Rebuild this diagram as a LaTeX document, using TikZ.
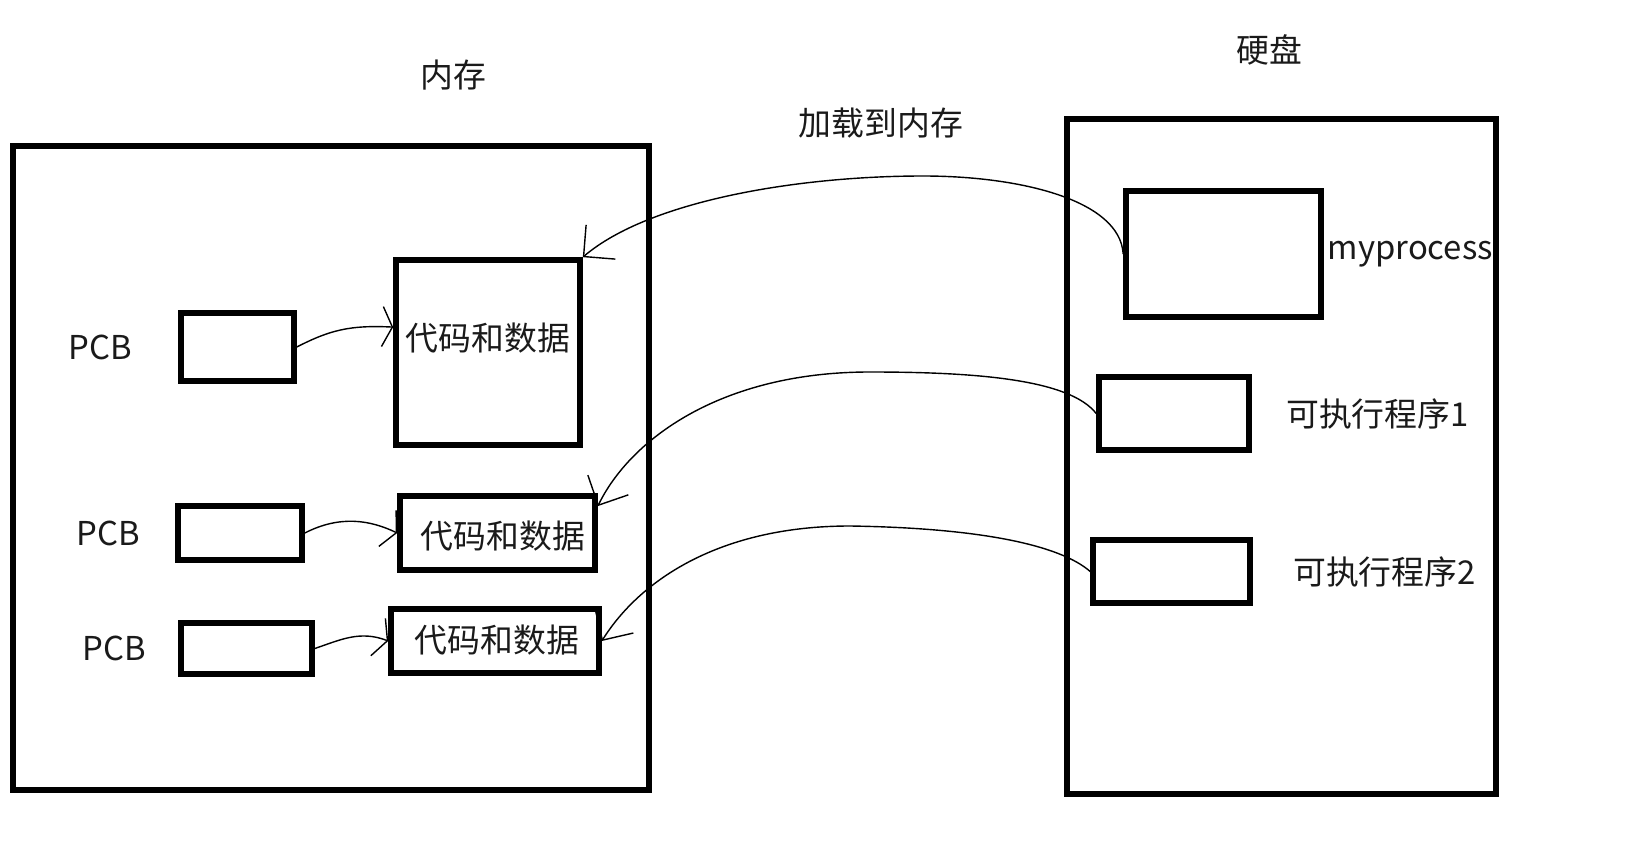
\documentclass[tikz,border=0pt]{standalone}
\usepackage{fontspec}
\setmainfont{Noto Sans CJK SC}
\definecolor{InkBlack}{HTML}{000000}
\definecolor{TextGray}{HTML}{1A1A1A}
\usetikzlibrary{arrows.meta, positioning, fit}
\tikzset{
  % Box styles
  storebox/.style={rectangle, draw=InkBlack, line width=3pt, inner sep=0pt},
  itembox/.style={rectangle, draw=InkBlack, line width=3.2pt, inner sep=0pt},
  tagtext/.style={inner sep=0pt, text=TextGray, font=\fontsize{18.7}{22}\selectfont},
  % Arrow styles
  loadarrow/.style={-{Straight Barb[length=4.5mm, width=9mm]}, line width=0.8pt, InkBlack},
  linkarrow/.style={-{Straight Barb[length=2mm, width=8mm]}, line width=0.8pt, InkBlack}
}

\begin{document}
\begin{tikzpicture}[x=0.02cm, y=-0.02cm]
  \useasboundingbox (0,0) rectangle (1644,858);

  % Memory side
  \node[storebox, fit={(13,146) (649,790)}] (mem) {};
  \node[tagtext] (memtitle) at (453,75) {内存};
  \node[itembox, fit={(181,313) (294,381)}] (pcbA) {};
  \node[itembox, fit={(396,260) (580,445)}] (codeA) {};
  \node[itembox, fit={(178,506) (302,560)}] (pcbB) {};
  \node[itembox, fit={(400,496) (595,570)}] (codeB) {};
  \node[itembox, fit={(181,623) (312,674)}] (pcbC) {};
  \node[itembox, fit={(391,609) (599,673)}] (codeC) {};
  \node[tagtext] (codetextA) at (488,338) {代码和数据};
  \node[tagtext] (codetextB) at (503,536) {代码和数据};
  \node[tagtext] (codetextC) at (497,640) {代码和数据};
  \node[tagtext, left=0.92cm of pcbA] (pcbtextA) {PCB};
  \node[tagtext, left=0.7cm of pcbB] (pcbtextB) {PCB};
  \node[tagtext, left=0.64cm of pcbC] (pcbtextC) {PCB};

  \draw[linkarrow] (pcbA.east) .. controls (330,330) and (350,325) .. (codeA.165);
  \draw[linkarrow] (pcbB.east) .. controls (340,515) and (370,520) .. (codeB.west);
  \draw[linkarrow] (pcbC.east) .. controls (340,640) and (360,630) .. (codeC.west);

  % Disk side
  \node[storebox, fit={(1067,119) (1496,794)}] (disk) {};
  \node[tagtext] (disktitle) at (1269,50) {硬盘};
  \node[itembox, fit={(1126,191) (1321,317)}] (myproc) {};
  \node[itembox, fit={(1099,377) (1249,450)}] (execA) {};
  \node[itembox, fit={(1093,540) (1250,603)}] (execB) {};
  \node[tagtext, right=2pt of myproc] (myproctext) {myprocess};
  \node[tagtext, right=0.68cm of execA] (exectextA) {可执行程序1};
  \node[tagtext, right=0.8cm of execB] (exectextB) {可执行程序2};

  % Loading
  \node[tagtext] (loadtext) at (881,123) {加载到内存};
  \coordinate (crestA) at (923,176);
  \coordinate (crestB) at (870,372);
  \coordinate (crestC) at (850,526);
  \draw[loadarrow] (myproc.west) .. controls (1120,200) and (1020,176) .. (crestA)
    .. controls (800,176) and (650,200) .. (codeA.north east);
  \draw[loadarrow] (execA.west) .. controls (1070,380) and (980,372) .. (crestB)
    .. controls (720,372) and (630,440) .. (codeB.15);
  \draw[loadarrow] (execB.west) .. controls (1060,545) and (980,528) .. (crestC)
    .. controls (720,526) and (640,580) .. (codeC.east);
\end{tikzpicture}
\end{document}
